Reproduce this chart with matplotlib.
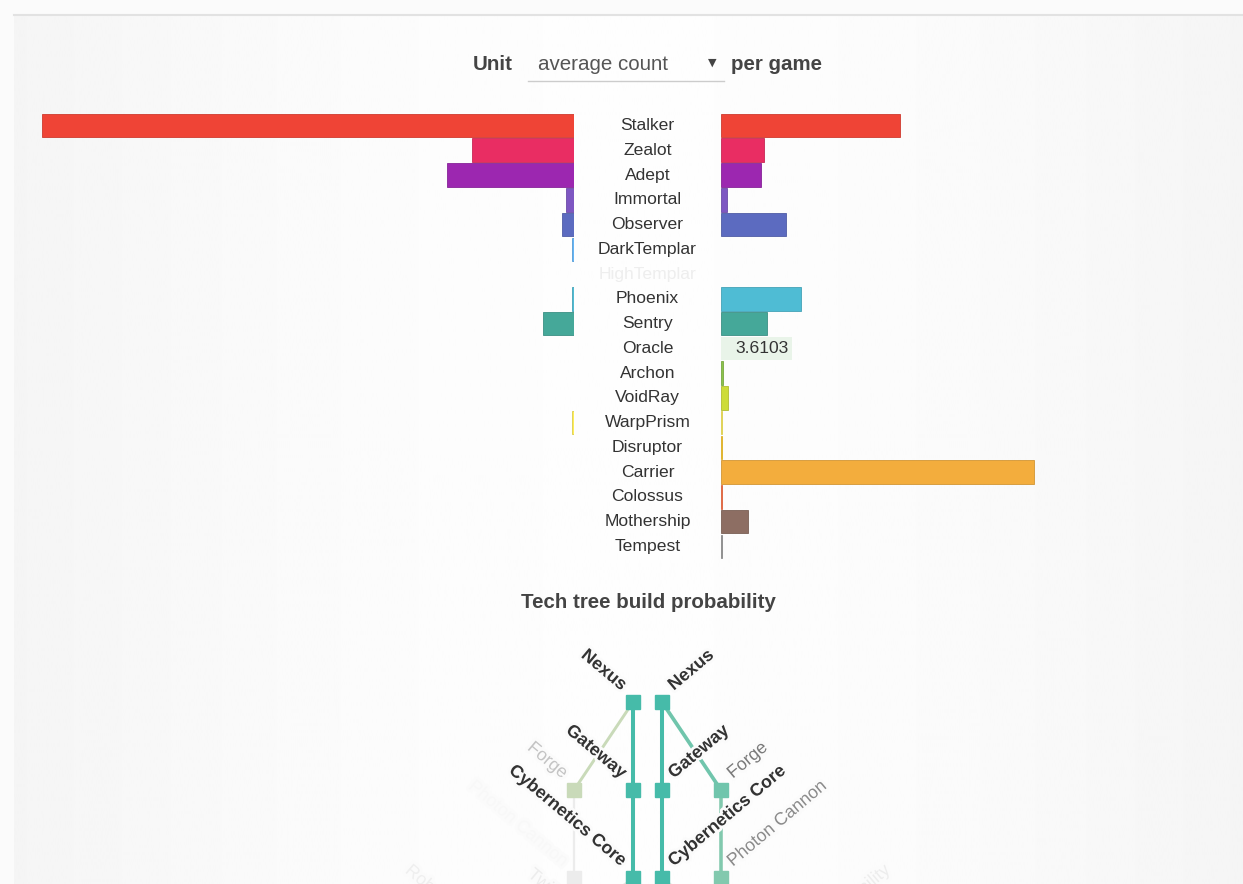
import numpy as np
import matplotlib.pyplot as plt
import matplotlib.colors as mcolors
import matplotlib.patheffects as pe
from matplotlib.lines import Line2D
from matplotlib.transforms import blended_transform_factory

plt.rcParams["font.family"] = ["Liberation Sans", "DejaVu Sans"]

# unit counts per game, left player / right player
units = ["Stalker", "Zealot", "Adept", "Immortal", "Observer", "DarkTemplar",
         "HighTemplar", "Phoenix", "Sentry", "Oracle", "Archon", "VoidRay",
         "WarpPrism", "Disruptor", "Carrier", "Colossus", "Mothership", "Tempest"]
left_counts = [27.05, 5.19, 6.46, 0.41, 0.61, 0.10, 0.0, 0.08, 1.58, 0.0,
               0.0, 0.0, 0.08, 0.0, 0.0, 0.0, 0.0, 0.0]
right_counts = [9.10, 2.19, 2.03, 0.31, 3.30, 0.0, 0.0, 4.07, 2.34, 3.6103,
                0.08, 0.36, 0.05, 0.05, 15.91, 0.05, 1.37, 0.05]
unit_colors = ["#ef4436", "#e92d63", "#9c27b0", "#7e57c2", "#5c6bc0", "#64b5f6",
               "#4fc3f7", "#4fbcd4", "#45a899", "#66bb6a", "#8bc34a", "#cddc39",
               "#ffee58", "#ffca28", "#f3ad3d", "#ff7043", "#8d6e63", "#9e9e9e"]
hovered = "Oracle"

# tech tree build probability (same layout for both players)
tree_names = ["Nexus", "Gateway", "Cybernetics Core", "Forge", "Photon Cannon",
              "Twilight Council", "Robotics Facility"]
tree_col = [0, 0, 0, 1, 1, 0, 2]
tree_depth = [0, 1, 2, 1, 2, 3, 3]
tree_parent = [-1, 0, 1, 0, 3, 2, 2]
left_prob = [1.0, 1.0, 1.0, 0.40, 0.005, 0.10, 0.08]
right_prob = [1.0, 1.0, 1.0, 0.82, 0.74, 0.0, 0.10]

W, H = 1243, 884
BG = "#fbfbfb"
fig = plt.figure(figsize=(W / 100, H / 100), dpi=100, facecolor=BG)

# soft panel background
bg = fig.add_axes([14 / W, 0, 1 - 14 / W, (H - 15) / H])
grad = 0.96 + 0.033 * np.sin(np.linspace(0, np.pi, 600))
bg.imshow(grad[None, :], aspect="auto", cmap="gray", vmin=0, vmax=1,
          extent=[0, 1, 0, 1], interpolation="bilinear")
bg.axis("off")
fig.add_artist(Line2D([14 / W, 1], [1 - 14.5 / H] * 2, color="#e2e2e2", lw=1.5))

# header
hy = 1 - 64 / H
fig.text(473 / W, hy, "Unit", ha="left", va="center", fontsize=14.8,
         weight="bold", color="#444444")
fig.text(538 / W, hy, "average count", ha="left", va="center", fontsize=14.8,
         color="#555555")
fig.text(712 / W, hy + 0.002, "\u25bc", ha="center", va="center", fontsize=8,
         color="#444444", family="DejaVu Sans")
fig.text(731 / W, hy, "per game", ha="left", va="center", fontsize=14.8,
         weight="bold", color="#444444")
fig.add_artist(Line2D([528 / W, 724 / W], [1 - 80.5 / H] * 2, color="#cccccc", lw=1))

# mirrored bar chart
scale = 71 / 3.6103          # pixels per unit
row = 24.76
top = 125.5 - row / 2
bot = 125.5 + row * (len(units) - 0.5)
ax_b = 1 - bot / H
ax_h = (bot - top) / H
y = np.arange(len(units))

def darker(c, f=0.86):
    r, g, b = mcolors.to_rgb(c)
    return (r * f, g * f, b * f)

axl = fig.add_axes([14 / W, ax_b, 560 / W, ax_h])
axr = fig.add_axes([721 / W, ax_b, (W - 721) / W, ax_h])
for ax in (axl, axr):
    ax.set_facecolor("none")
    ax.axis("off")
    ax.set_ylim(len(units) - 0.5, -0.5)
axl.set_xlim(560 / scale, 0)
axr.set_xlim(0, (W - 721) / scale)

ledges = [darker(c) if v > 0 else "none" for v, c in zip(left_counts, unit_colors)]
axl.barh(y, left_counts, height=0.95, color=unit_colors, edgecolor=ledges,
         linewidth=0.6)
rcols = ["#e9f4e9" if u == hovered else c for u, c in zip(units, unit_colors)]
redges = ["none" if (u == hovered or v == 0) else darker(c)
          for u, v, c in zip(units, right_counts, unit_colors)]
axr.barh(y, right_counts, height=0.95, color=rcols, edgecolor=redges, linewidth=0.6)
hi = units.index(hovered)
axr.annotate(f"{right_counts[hi]:.4f}", xy=(right_counts[hi], hi),
             xytext=(-3, 0), textcoords="offset pixels", ha="right", va="center",
             fontsize=12.6, color="#333333")

lab_tr = blended_transform_factory(fig.transFigure, axl.transData)
for i, u in enumerate(units):
    empty = left_counts[i] == 0 and right_counts[i] == 0
    fig.text(647.5 / W, i, u, transform=lab_tr, ha="center", va="center",
             fontsize=12.6, color="#eeeeee" if empty else "#333333")

fig.text(648 / W, 1 - 602 / H, "Tech tree build probability", ha="center",
         va="center", fontsize=14.8, weight="bold", color="#444444")

# tech tree
colw, deph = 59.0, 88.0
axt = fig.add_axes([0, 0, 1, (H - 620) / H])
axt.set_facecolor("none")
axt.axis("off")
axt.set_xlim(-647.5 / colw, (W - 647.5) / colw)
axt.set_ylim((H - 702) / deph, -(702 - 620) / deph)
cmap = mcolors.LinearSegmentedColormap.from_list(
    "tree", [(0, "#ececec"), (0.45, "#c5d8b3"), (1, "#46bba9")])
halo = [pe.withStroke(linewidth=4, foreground=BG)]

for side, probs in ((-1, left_prob), (1, right_prob)):
    xs = [side * (0.245 + c) for c in tree_col]
    for i, p in enumerate(probs):
        par = tree_parent[i]
        if par >= 0:
            axt.plot([xs[par], xs[i]], [tree_depth[par], tree_depth[i]],
                     color=cmap(p), lw=1.6 + 1.3 * p, solid_capstyle="butt",
                     zorder=1)
    for i, p in enumerate(probs):
        axt.plot(xs[i], tree_depth[i], marker="s", ms=10.6, color=cmap(p),
                 mec=cmap(p), zorder=3)
        if p == 0:
            continue
        g = 0.2 + 0.775 * (1 - p) ** 0.6
        axt.annotate(tree_names[i], xy=(xs[i], tree_depth[i]),
                     xytext=(side * 8.5, 8), textcoords="offset points",
                     rotation=-40 * -side, rotation_mode="anchor",
                     ha="left" if side > 0 else "right", va="baseline",
                     fontsize=12.8, weight="bold" if p >= 0.95 else "normal",
                     color=(g, g, g), path_effects=halo, zorder=2,
                     annotation_clip=False)

fig.savefig("out.png", dpi=100, facecolor=BG)
